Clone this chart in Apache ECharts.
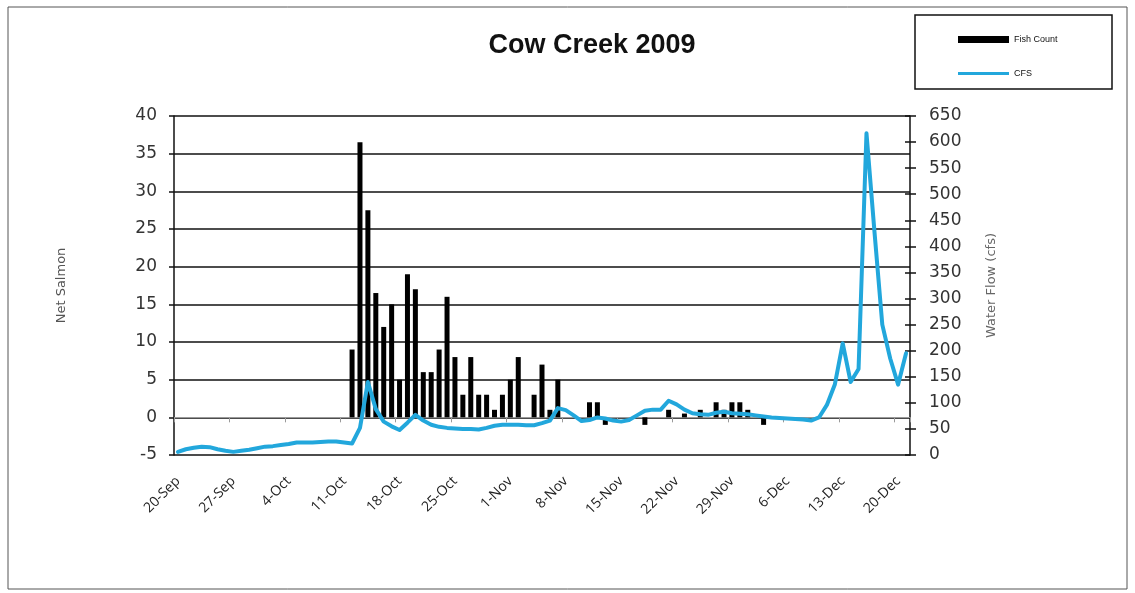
<!DOCTYPE html>
<html>
<head>
<meta charset="utf-8">
<title>Cow Creek 2009</title>
<script src="https://cdn.jsdelivr.net/npm/echarts@6/dist/echarts.min.js"></script>
<style>
  html, body { margin: 0; padding: 0; background: #fff; }
  #chart { width: 1135px; height: 593px; }
</style>
</head>
<body>
<div id="chart"></div>
<script>
// Daily categories, 20-Sep through 21-Dec 2009
const dates = [
  '20-Sep','21-Sep','22-Sep','23-Sep','24-Sep','25-Sep','26-Sep','27-Sep','28-Sep','29-Sep','30-Sep',
  '1-Oct','2-Oct','3-Oct','4-Oct','5-Oct','6-Oct','7-Oct','8-Oct','9-Oct','10-Oct',
  '11-Oct','12-Oct','13-Oct','14-Oct','15-Oct','16-Oct','17-Oct','18-Oct','19-Oct','20-Oct',
  '21-Oct','22-Oct','23-Oct','24-Oct','25-Oct','26-Oct','27-Oct','28-Oct','29-Oct','30-Oct','31-Oct',
  '1-Nov','2-Nov','3-Nov','4-Nov','5-Nov','6-Nov','7-Nov','8-Nov','9-Nov','10-Nov',
  '11-Nov','12-Nov','13-Nov','14-Nov','15-Nov','16-Nov','17-Nov','18-Nov','19-Nov','20-Nov',
  '21-Nov','22-Nov','23-Nov','24-Nov','25-Nov','26-Nov','27-Nov','28-Nov','29-Nov','30-Nov',
  '1-Dec','2-Dec','3-Dec','4-Dec','5-Dec','6-Dec','7-Dec','8-Dec','9-Dec','10-Dec',
  '11-Dec','12-Dec','13-Dec','14-Dec','15-Dec','16-Dec','17-Dec','18-Dec','19-Dec','20-Dec','21-Dec'
];

// Net salmon counted per day (null = no count)
const fishCount = [
  null, null, null, null, null, null, null,
  null, null, null, null, null, null, null,
  null, null, null, null, null, null, null,
  null, 9, 36.5, 27.5, 16.5, 12, 15,
  5, 19, 17, 6, 6, 9, 16,
  8, 3, 8, 3, 3, 1, 3,
  5, 8, null, 3, 7, 1, 5,
  null, null, null, 2, 2, -1, null,
  null, null, null, -1, null, null, 1,
  null, 0.5, null, 1, null, 2, 1,
  2, 2, 1, null, -1, null, null,
  null, null, null, null, null, null, null,
  null, null, null, null, null, null, null,
  null, null
];

// Daily mean water flow, cfs
const cfs = [
  6, 11, 14, 16, 15, 11, 8,
  6, 8, 10, 13, 16, 17, 19,
  21, 24, 24, 24, 25, 26, 26,
  24, 22, 52, 140, 88, 64, 55,
  48, 62, 77, 66, 58, 54, 52,
  51, 50, 50, 49, 52, 56, 58,
  58, 58, 57, 57, 61, 66, 90,
  86, 76, 65, 67, 72, 70, 66,
  64, 67, 76, 85, 87, 87, 104,
  97, 87, 80, 78, 77, 81, 83,
  80, 79, 78, 76, 74, 72, 71,
  70, 69, 68, 66, 72, 96, 135,
  214, 140, 165, 617, 430, 250, 185,
  135, 195
];

const salmonTicks = { min: -5, max: 40, step: 5 };
const flowTicks = { min: 0, max: 650, step: 50 };

const chart = echarts.init(document.getElementById('chart'), null, { renderer: 'canvas' });

const numFont = '"DejaVu Sans", sans-serif';
const flowColor = '#22A7DC';

chart.setOption({
  animation: false,
  backgroundColor: '#fff',
  grid: { left: 174, right: 225, top: 116, bottom: 138, containLabel: false },
  graphic: [
    { type: 'rect', shape: { x: 8, y: 7, width: 1119, height: 582 },
      style: { fill: null, stroke: '#555', lineWidth: 1 }, silent: true, z: 0 },
    { type: 'rect', shape: { x: 915, y: 15, width: 197, height: 74 },
      style: { fill: '#fff', stroke: '#111', lineWidth: 1.5 }, silent: true, z: 1 },
    { type: 'text', x: 592, y: 46, z: 5,
      style: { text: 'Cow Creek 2009', fill: '#111', align: 'center', verticalAlign: 'middle',
               font: 'bold 27px "Liberation Sans Narrow", "Liberation Sans", sans-serif' } }
  ],
  legend: {
    orient: 'vertical', left: 953, top: 30, z: 10,
    itemWidth: 51, itemHeight: 7, itemGap: 25,
    symbolKeepAspect: true,
    textStyle: { fontSize: 9, color: '#111', fontFamily: '"Liberation Sans Narrow", "Liberation Sans", sans-serif' },
    data: [
      { name: 'Fish Count', icon: 'rect' },
      { name: 'CFS', icon: 'path://M0,0H51V3H0Z', itemStyle: { color: flowColor } }
    ]
  },
  xAxis: [
    {
      type: 'category', data: dates, boundaryGap: true, position: 'bottom',
      axisLine: { onZero: true, onZeroAxisIndex: 0, lineStyle: { color: '#9a9a9a', width: 1 } },
      axisTick: { show: true, interval: 6, length: 5, lineStyle: { color: '#9a9a9a' } },
      axisLabel: { show: false },
      splitLine: { show: false }
    },
    {
      type: 'category', data: dates, boundaryGap: true, position: 'bottom',
      axisLine: { show: false, onZero: false },
      axisTick: { show: false },
      axisLabel: { interval: 6, rotate: 45, margin: 24, fontSize: 14, color: '#222',
                   fontFamily: '"Open Sans", sans-serif' },
      splitLine: { show: false }
    }
  ],
  yAxis: [
    {
      type: 'value', position: 'left',
      min: salmonTicks.min, max: salmonTicks.max, interval: salmonTicks.step,
      name: 'Net Salmon', nameLocation: 'middle', nameGap: 106, nameRotate: 90,
      nameTextStyle: { fontSize: 13, color: '#555', fontFamily: numFont },
      axisLine: { show: true, lineStyle: { color: '#111', width: 1.5 } },
      axisTick: { show: true, length: 5, lineStyle: { color: '#111', width: 1.5 } },
      axisLabel: { fontSize: 17, color: '#333', margin: 17, fontFamily: numFont },
      splitLine: { show: true, lineStyle: { color: '#111', width: 1.5 } }
    },
    {
      type: 'value', position: 'right',
      min: flowTicks.min, max: flowTicks.max, interval: flowTicks.step,
      name: 'Water Flow (cfs)', nameLocation: 'middle', nameGap: 75, nameRotate: 90,
      nameTextStyle: { fontSize: 13, color: '#666', fontFamily: numFont },
      axisLine: { show: true, lineStyle: { color: '#111', width: 1.5 } },
      axisTick: { show: true, length: 6, lineStyle: { color: '#111', width: 1.5 } },
      axisLabel: { fontSize: 17, color: '#333', margin: 19, fontFamily: numFont },
      splitLine: { show: false }
    },
    {
      // inner half of the crossing tick marks on the flow axis
      type: 'value', position: 'right',
      min: flowTicks.min, max: flowTicks.max, interval: flowTicks.step,
      axisLine: { show: false },
      axisTick: { show: true, inside: true, length: 5, lineStyle: { color: '#111', width: 1.5 } },
      axisLabel: { show: false },
      splitLine: { show: false }
    }
  ],
  series: [
    {
      name: 'Fish Count', type: 'bar', xAxisIndex: 0, yAxisIndex: 0,
      data: fishCount, barWidth: 5,
      itemStyle: { color: '#000' }, z: 2
    },
    {
      name: 'CFS', type: 'line', xAxisIndex: 0, yAxisIndex: 1,
      data: cfs, symbol: 'none', smooth: false,
      lineStyle: { color: flowColor, width: 4, join: 'round', cap: 'round' },
      itemStyle: { color: flowColor }, z: 3
    }
  ]
});
</script>
</body>
</html>
